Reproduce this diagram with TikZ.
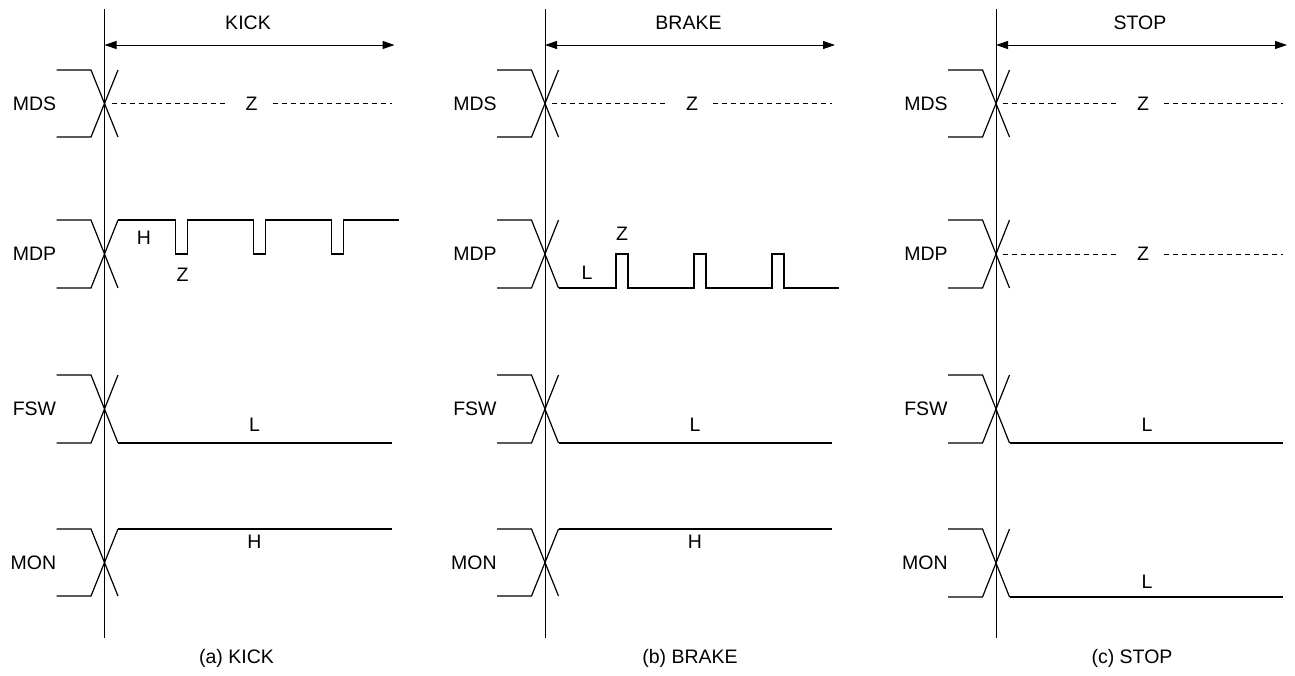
\documentclass[tikz,border=0pt]{standalone}
\usepackage{fontspec}
\setmainfont{Liberation Sans}
\usetikzlibrary{arrows.meta}
\newcommand\xing[2]{%
  \draw[sig] (-48,#1) -- (-13.5,#1) -- (13.5,#2);
  \draw[sig] (-48,#2) -- (-13.5,#2) -- (13.5,#1);}
\begin{document}
\begin{tikzpicture}[x=0.5pt,y=-0.5pt,
  sig/.style={line width=0.6pt,line join=miter},
  vline/.style={line width=0.45pt},
  zdash/.style={line width=0.5pt,dash pattern=on 2.5pt off 2pt},
  dimarrow/.style={line width=0.5pt,{Triangle[length=6pt,width=4pt]}-{Triangle[length=6pt,width=4pt]}},
  txt/.style={font=\fontsize{9.75}{11}\selectfont,inner sep=0pt},
  signame/.style={txt,anchor=east}]
\useasboundingbox (0,0) rectangle (1295,675);
% ---------------- panel (a) KICK
\begin{scope}[shift={(104.5,0)}]
  \coordinate (a-top) at (0,9);
  \coordinate (a-bot) at (0,638);
  \draw[vline] (a-top) -- (a-bot);
  \coordinate (a-s) at (0,45);
  \coordinate (a-e) at (290,45);
  \draw[dimarrow] (a-s) -- (a-e);
  \node[txt] (a-title) at (143.5,23) {KICK};
  % MDS
  \node[signame] (a-mds) at (-48,103.5) {MDS};
  \xing{70}{137}
  \draw[zdash] (7,103.5) -- (122,103.5);
  \node[txt] (a-mdsz) at (147,103.5) {Z};
  \draw[zdash] (168,103.5) -- (287,103.5);
  % MDP
  \node[signame] (a-mdp) at (-48,254) {MDP};
  \xing{220}{288}
  \draw[sig] (13.5,220) -- (71,220) -- (71,254) -- (83,254) -- (83,220)
     -- (149,220) -- (149,254) -- (161,254) -- (161,220)
     -- (227,220) -- (227,254) -- (239,254) -- (239,220) -- (294,220);
  \node[txt] (a-mdph) at (39.5,238) {H};
  \node[txt] (a-mdpz) at (78,275) {Z};
  % FSW
  \node[signame] (a-fsw) at (-48,409) {FSW};
  \xing{375}{443}
  \draw[sig] (13.5,443) -- (287,443);
  \node[txt] (a-fswl) at (150,425) {L};
  % MON
  \node[signame] (a-mon) at (-48,562.5) {MON};
  \xing{529}{596}
  \draw[sig] (13.5,529) -- (287,529);
  \node[txt] (a-monh) at (150,542) {H};
  \node[txt] (a-cap) at (132,658) {(a) KICK};
\end{scope}
% ---------------- panel (b) BRAKE
\begin{scope}[shift={(545,0)}]
  \coordinate (b-top) at (0,9);
  \coordinate (b-bot) at (0,638);
  \draw[vline] (b-top) -- (b-bot);
  \coordinate (b-s) at (0,45);
  \coordinate (b-e) at (290,45);
  \draw[dimarrow] (b-s) -- (b-e);
  \node[txt] (b-title) at (143.5,23) {BRAKE};
  % MDS
  \node[signame] (b-mds) at (-48,103.5) {MDS};
  \xing{70}{137}
  \draw[zdash] (7,103.5) -- (122,103.5);
  \node[txt] (b-mdsz) at (147,103.5) {Z};
  \draw[zdash] (168,103.5) -- (287,103.5);
  % MDP
  \node[signame] (b-mdp) at (-48,254) {MDP};
  \xing{220}{288}
  \draw[sig] (13.5,288) -- (71,288) -- (71,254) -- (83,254) -- (83,288)
     -- (149,288) -- (149,254) -- (161,254) -- (161,288)
     -- (227,288) -- (227,254) -- (239,254) -- (239,288) -- (294,288);
  \node[txt] (b-mdpl) at (42,273) {L};
  \node[txt] (b-mdpz) at (77,234) {Z};
  % FSW
  \node[signame] (b-fsw) at (-48,409) {FSW};
  \xing{375}{443}
  \draw[sig] (13.5,443) -- (287,443);
  \node[txt] (b-fswl) at (150,425) {L};
  % MON
  \node[signame] (b-mon) at (-48,562.5) {MON};
  \xing{529}{596}
  \draw[sig] (13.5,529) -- (287,529);
  \node[txt] (b-monh) at (150,542) {H};
  \node[txt] (b-cap) at (145,658) {(b) BRAKE};
\end{scope}
% ---------------- panel (c) STOP
\begin{scope}[shift={(996,0)}]
  \coordinate (c-top) at (0,9);
  \coordinate (c-bot) at (0,638);
  \draw[vline] (c-top) -- (c-bot);
  \coordinate (c-s) at (0,45);
  \coordinate (c-e) at (291,45);
  \draw[dimarrow] (c-s) -- (c-e);
  \node[txt] (c-title) at (144,23) {STOP};
  % MDS
  \node[signame] (c-mds) at (-48,103.5) {MDS};
  \xing{70}{137}
  \draw[zdash] (7,103.5) -- (122,103.5);
  \node[txt] (c-mdsz) at (147,103.5) {Z};
  \draw[zdash] (168,103.5) -- (287,103.5);
  % MDP
  \node[signame] (c-mdp) at (-48,254) {MDP};
  \xing{220}{288}
  \draw[zdash] (7,254) -- (122,254);
  \node[txt] (c-mdpz) at (147,254) {Z};
  \draw[zdash] (168,254) -- (287,254);
  % FSW
  \node[signame] (c-fsw) at (-48,409) {FSW};
  \xing{375}{443}
  \draw[sig] (13.5,443) -- (287,443);
  \node[txt] (c-fswl) at (151,425) {L};
  % MON
  \node[signame] (c-mon) at (-48,562.5) {MON};
  \xing{529}{597}
  \draw[sig] (13.5,597) -- (287,597);
  \node[txt] (c-monl) at (151,582) {L};
  \node[txt] (c-cap) at (136,658) {(c) STOP};
\end{scope}
\end{tikzpicture}
\end{document}
